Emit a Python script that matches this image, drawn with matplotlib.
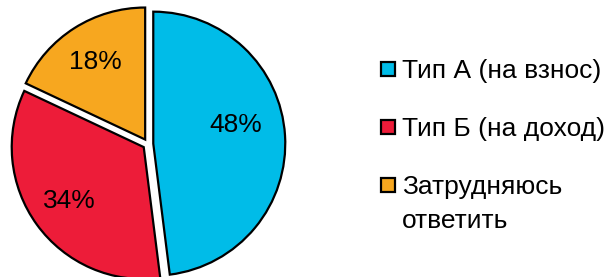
import matplotlib.pyplot as plt
from matplotlib.patches import Rectangle

plt.rcParams['font.family'] = ['Liberation Sans', 'DejaVu Sans']

# ------------------- ДАННЫЕ -------------------
categories = ["Тип А (на взнос)", "Тип Б (на доход)", "Затрудняюсь\nответить"]
shares = [48, 34, 18]
colors = ["#00BCE8", "#ED1C39", "#F7A71F"]

W, H = 610, 277
fig = plt.figure(figsize=(W / 100, H / 100), dpi=100)

# центр круга и радиус в пикселях
cx, cy, R = 148, 144, 132
ax = fig.add_axes([0, 0, 1, 1])
ax.axis("off")

wedges, texts, autotexts = ax.pie(
    shares, colors=colors, startangle=90, counterclock=False,
    explode=[0.04, 0.04, 0.04], autopct="%d%%", pctdistance=0.7,
    wedgeprops=dict(edgecolor="black", linewidth=1.6),
    textprops=dict(fontsize=19, color="black"),
)
for w in wedges:
    w.set_clip_on(False)
ax.set_xlim(-cx / R, (W - cx) / R)
ax.set_ylim(-(H - cy) / R, cy / R)

# подпись 48% немного выше и левее
x0, y0 = autotexts[0].get_position()
autotexts[0].set_position((x0 - 0.07, y0 + 0.1))

# ------------------- ЛЕГЕНДА (вручную) -------------------
leg_x = 381      # левый край маркера, px
leg_y0 = 69      # центр первой строки, px сверху
leg_step = 58    # шаг между пунктами, px
box = 14         # размер маркера, px
for i, (label, c) in enumerate(zip(categories, colors)):
    yc = leg_y0 + i * leg_step
    fig.add_artist(Rectangle((leg_x / W, 1 - (yc + box / 2) / H), box / W, box / H,
                             transform=fig.transFigure, facecolor=c,
                             edgecolor="black", linewidth=1.6))
    fig.text((leg_x + box + 7) / W, 1 - (yc - 10) / H, label, fontsize=19,
             va="top", ha="left", linespacing=1.5)

fig.savefig("out.png", dpi=100)
